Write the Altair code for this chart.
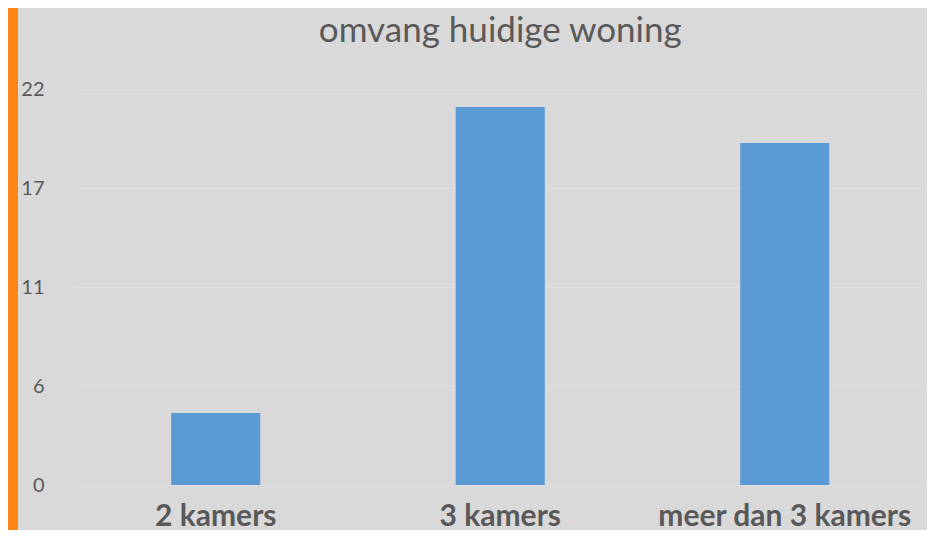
import altair as alt
import pandas as pd

categories = ["2 kamers", "3 kamers", "meer dan 3 kamers"]
values = [4, 21, 19]
y_ticks = [0, 5.5, 11, 16.5, 22]
title_text = "omvang huidige woning"

df = pd.DataFrame({"categorie": categories, "aantal": values})

TEXT = "#595959"
FONT = "Lato"

W, H = 853.5, 396
PL, PT, PB = 65.5, 81, 45

bars = alt.Chart(df).mark_bar(color="#5B9BD5").encode(
    x=alt.X(
        "categorie:N",
        sort=categories,
        title=None,
        scale=alt.Scale(paddingInner=0.687, paddingOuter=0.3435),
        axis=alt.Axis(
            labelAngle=0,
            labelFont=FONT,
            labelFontSize=30,
            labelFontWeight="bold",
            labelColor=TEXT,
            labelBaseline="alphabetic",
            labelPadding=40,
            labelLimit=500,
            ticks=False,
            tickSize=0,
            domain=False,
            grid=False,
        ),
    ),
    y=alt.Y(
        "aantal:Q",
        title=None,
        scale=alt.Scale(domain=[0, 22], nice=False),
        axis=alt.Axis(
            values=y_ticks,
            labelExpr="round(datum.value)",
            labelFont=FONT,
            labelFontSize=20,
            labelColor=TEXT,
            labelPadding=29.5,
            ticks=False,
            tickSize=0,
            domain=False,
            grid=True,
            gridColor="#dfdfdf",
            gridWidth=1,
        ),
    ),
)

strip = alt.Chart(pd.DataFrame({"k": [0]})).mark_rect(color="#FF8616").encode(
    x=alt.value(-PL),
    x2=alt.value(-PL + 10),
    y=alt.value(-PT),
    y2=alt.value(H + PB),
)

chart = alt.layer(strip, bars).properties(
    width=W,
    height=H,
    title=alt.TitleParams(
        title_text,
        font=FONT,
        fontSize=35,
        fontWeight="normal",
        color=TEXT,
        anchor="middle",
        frame="group",
        baseline="alphabetic",
        offset=-69,
    ),
    autosize=alt.AutoSizeParams(type="none"),
    padding={"left": PL, "top": PT, "right": 0, "bottom": PB},
).configure(background="#D9D9D9").configure_view(stroke=None)

chart.save("out.html", embed_options={"renderer": "svg", "actions": False})
